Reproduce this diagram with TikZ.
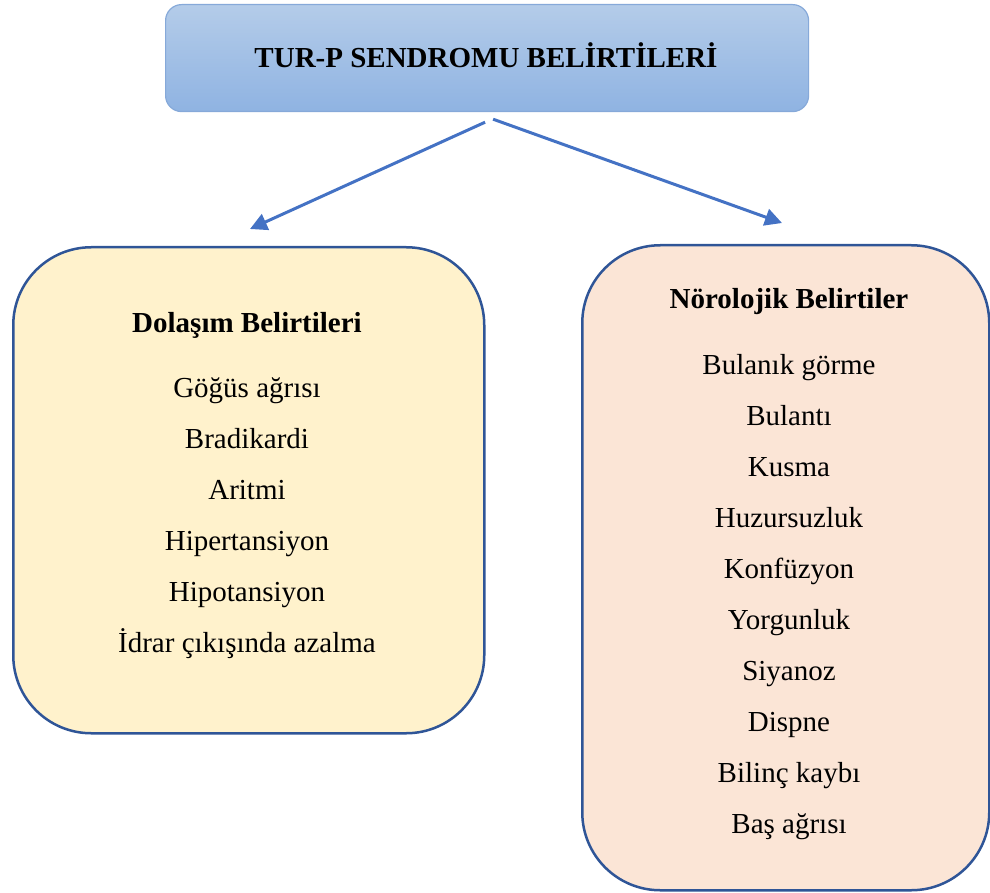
\documentclass[tikz,border=0pt]{standalone}
\usepackage{fontspec}
\setmainfont{Liberation Serif}
\usetikzlibrary{arrows.meta}

\definecolor{titletop}{HTML}{B4CCE9}
\definecolor{titlebot}{HTML}{8FB3E2}
\definecolor{titleline}{HTML}{86A9D9}
\definecolor{boxline}{HTML}{2F5597}
\definecolor{arrowblue}{HTML}{4472C4}
\definecolor{leftfill}{HTML}{FFF2CC}
\definecolor{rightfill}{HTML}{FBE5D6}

\begin{document}
\begin{tikzpicture}[x=1pt, y=-1pt,
    txt/.style={anchor=base, font=\fontsize{29}{35}\selectfont},
    head/.style={txt, font=\fontsize{29}{35}\selectfont\bfseries},
    group/.style={draw=boxline, line width=2.5pt, rounded corners=78pt, anchor=north west},
    link/.style={draw=arrowblue, line width=3pt, -{Triangle[length=17pt, width=17pt]}}]
    \useasboundingbox (0,0) rectangle (990,893);
    % Title box
    \node[draw=titleline, line width=1.2pt, rounded corners=16pt, top color=titletop,
        bottom color=titlebot, minimum width=643pt, minimum height=107pt, anchor=north west]
        (Title) at (165,4) {};
    \node[head] (Title-text) at (486,68) {TUR-P SENDROMU BELİRTİLERİ};
    % Groups
    \node[group, fill=leftfill, minimum width=471pt, minimum height=486pt] (Dolasim) at (12,246) {};
    \node[group, fill=rightfill, minimum width=407pt, minimum height=645pt] (Noro) at (581,244) {};
    \node[head] (Dolasim-head) at (247,332) {Dolaşım Belirtileri};
    \node[head] (Noro-head) at (789,308) {Nörolojik Belirtiler};
    % Left items
    \foreach \name/\i in {Göğüs ağrısı/1,Bradikardi/2,Aritmi/3,Hipertansiyon/4,
        Hipotansiyon/5,İdrar çıkışında azalma/6} {
        \node[txt] (Dolasim-\i) at (247,397+\i*51-51) {\name};
    }
    % Right items
    \foreach \name/\i in {Bulanık görme/1,Bulantı/2,Kusma/3,Huzursuzluk/4,Konfüzyon/5,
        Yorgunluk/6,Siyanoz/7,Dispne/8,Bilinç kaybı/9,Baş ağrısı/10} {
        \node[txt] (Noro-\i) at (789,374+\i*51-51) {\name};
    }
    % Arrows
    \coordinate (Left-tip) at (250,229);
    \coordinate (Right-tip) at (782,223);
    \draw[link] ([xshift=-2pt, yshift=-10pt]Title.south) -- (Left-tip);
    \draw[link] ([xshift=6pt, yshift=-7pt]Title.south) -- (Right-tip);
\end{tikzpicture}
\end{document}
